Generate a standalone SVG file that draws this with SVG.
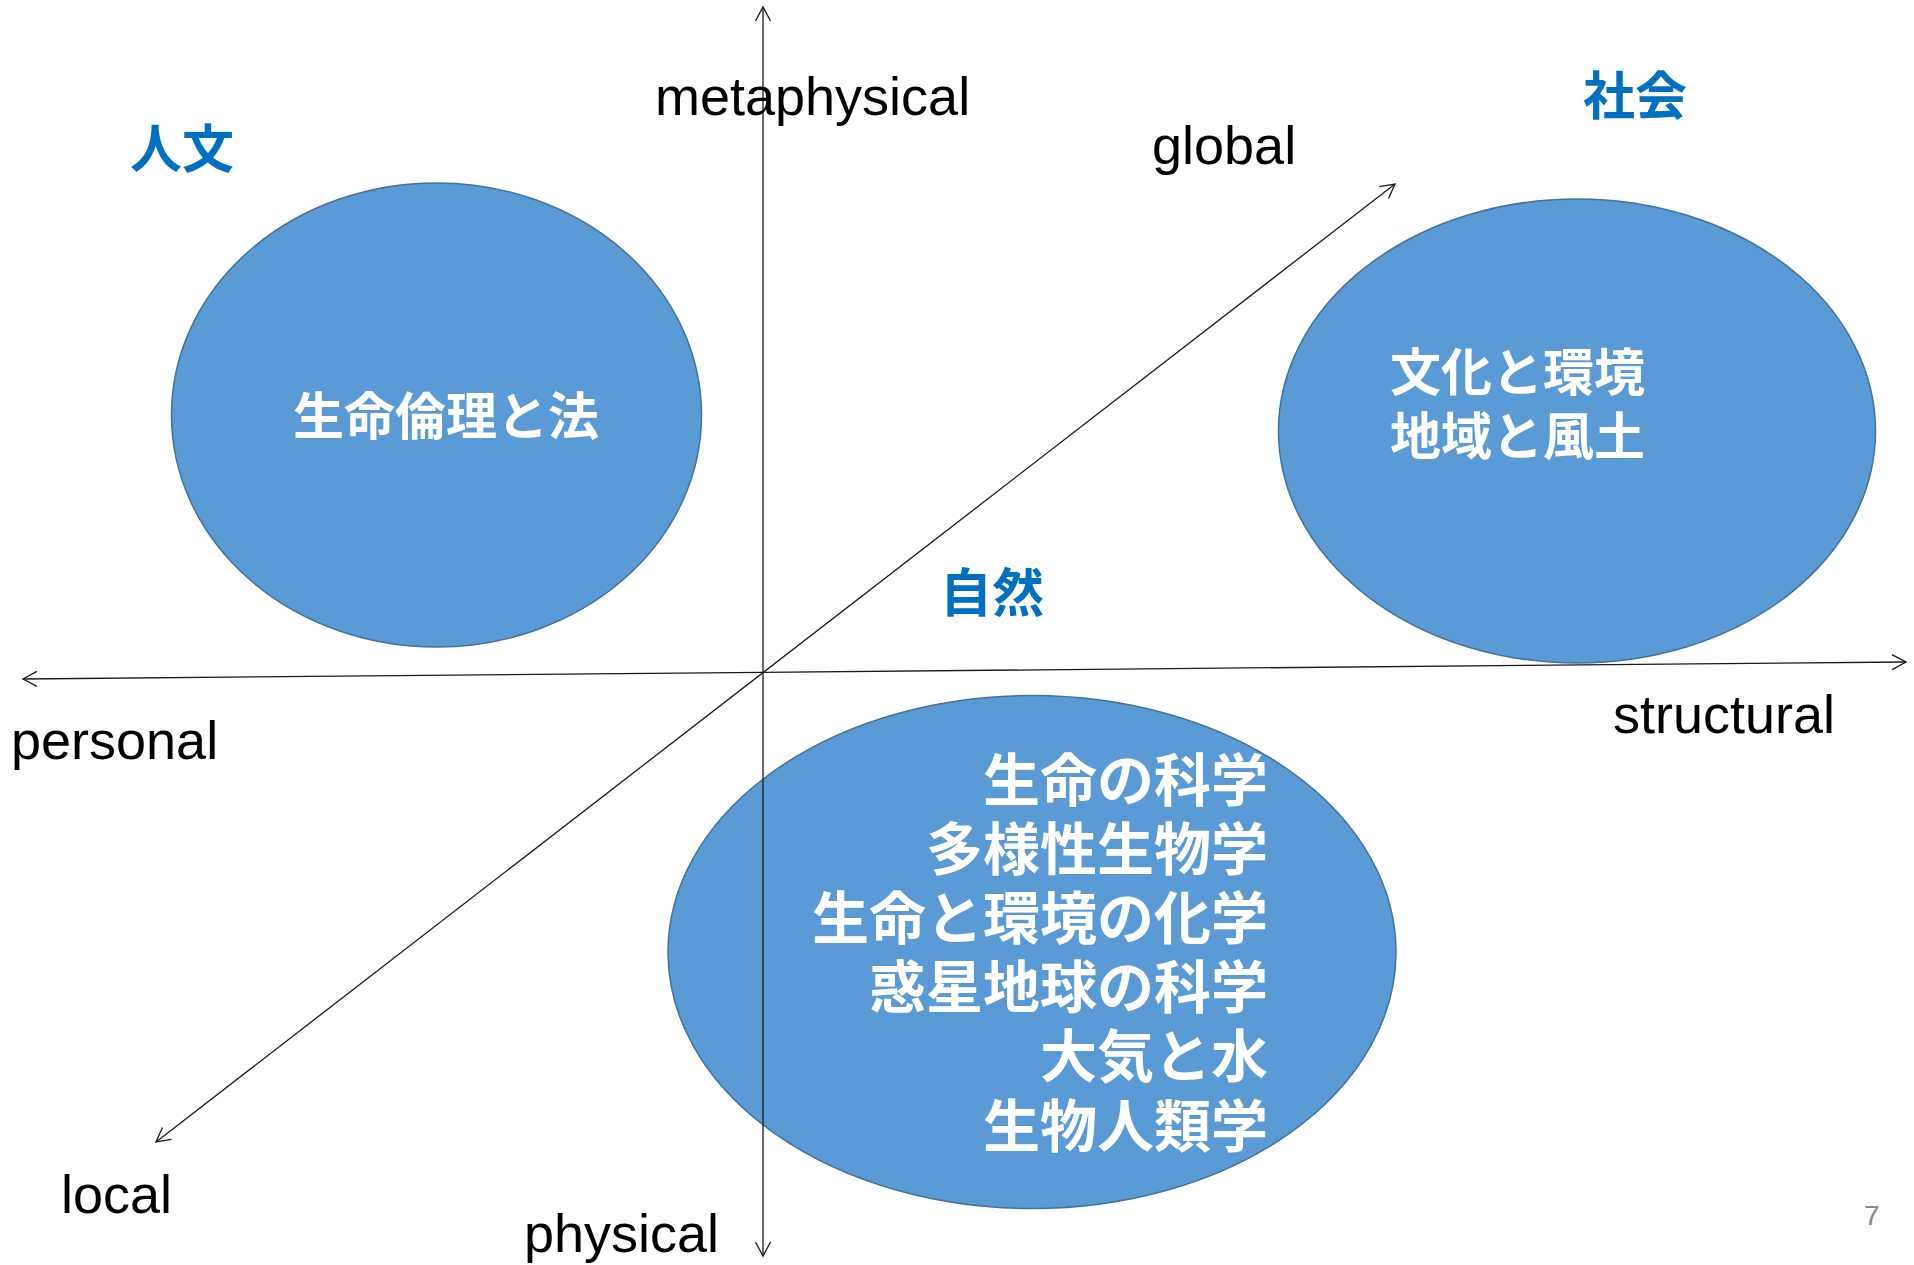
<svg xmlns="http://www.w3.org/2000/svg" width="1914" height="1265" viewBox="0 0 1914 1265">
  <style>
    .bubble { fill: #5B9BD5; stroke: #41719C; stroke-width: 1.5; }
    .inner { font-family: "Noto Sans CJK JP", "Noto Sans CJK SC", sans-serif; font-weight: bold; fill: #FFFFFF; }
    .cat { font-family: "Noto Sans CJK JP", "Noto Sans CJK SC", sans-serif; font-weight: bold; fill: #0070C0; font-size: 52px; }
    .axislabel { font-family: "Liberation Sans", Arial, sans-serif; font-size: 54px; fill: #000000; }
    .axis { stroke: #1a1a1a; stroke-width: 1.3; fill: none; marker-start: url(#open); marker-end: url(#open); }
  </style>
  <defs>
    <marker id="open" markerUnits="userSpaceOnUse" markerWidth="20" markerHeight="20" viewBox="-16 -10 18 20" refX="0" refY="0" orient="auto-start-reverse">
      <path d="M -14 -7.5 L 0 0 L -14 7.5" fill="none" stroke="#1a1a1a" stroke-width="1.3"/>
    </marker>
  </defs>
  <rect width="1914" height="1265" fill="#FFFFFF"/>

  <g id="node-humanities">
    <ellipse class="bubble" cx="436.5" cy="415" rx="265" ry="232"/>
    <text class="inner" x="446" y="435" font-size="51" text-anchor="middle">生命倫理と法</text>
  </g>

  <g id="node-society">
    <ellipse class="bubble" cx="1577" cy="431" rx="298.5" ry="232"/>
    <text class="inner" x="1517.5" y="391" font-size="51" text-anchor="middle">文化と環境</text>
    <text class="inner" x="1517.5" y="455" font-size="51" text-anchor="middle">地域と風土</text>
  </g>

  <g id="node-nature">
    <ellipse class="bubble" cx="1032" cy="952" rx="364" ry="256.5"/>
    <g class="inner" font-size="57" text-anchor="end">
      <text x="1268" y="801">生命の科学</text>
      <text x="1268" y="870">多様性生物学</text>
      <text x="1268" y="939">生命と環境の化学</text>
      <text x="1268" y="1008">惑星地球の科学</text>
      <text x="1268" y="1077">大気と水</text>
      <text x="1268" y="1147">生物人類学</text>
    </g>
  </g>

  <g id="connectors">
    <line class="axis" x1="763" y1="1256" x2="763" y2="7"/>
    <line class="axis" x1="23" y1="679" x2="1906" y2="662"/>
    <line class="axis" x1="156" y1="1142" x2="1395" y2="184"/>
  </g>

  <g id="labels">
    <text class="cat" x="130" y="168">人文</text>
    <text class="cat" x="1583" y="115">社会</text>
    <text class="cat" x="940" y="612">自然</text>
    <text class="axislabel" x="655" y="115">metaphysical</text>
    <text class="axislabel" x="1152" y="164">global</text>
    <text class="axislabel" x="11" y="759">personal</text>
    <text class="axislabel" x="1613" y="733">structural</text>
    <text class="axislabel" x="61" y="1213">local</text>
    <text class="axislabel" x="524" y="1252">physical</text>
    <text x="1864" y="1225" font-family="Liberation Sans, Arial, sans-serif" font-size="28" fill="#898989">7</text>
  </g>
</svg>
